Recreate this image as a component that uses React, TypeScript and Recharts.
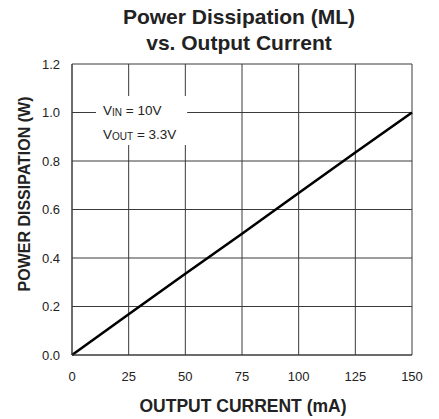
import React from "react";
import { LineChart, Line, XAxis, YAxis, CartesianGrid, ReferenceArea } from "recharts";

const currents = [0, 25, 50, 75, 100, 125, 150];
const power = [0, 0.168, 0.335, 0.5, 0.668, 0.835, 1.0];
const xTicks = [0, 25, 50, 75, 100, 125, 150];
const yTicks = [0, 0.2, 0.4, 0.6, 0.8, 1.0, 1.2];
const legendBoxX = [10.6, 50.8];
const legendBoxY = [0.866, 1.068];

const data = currents.map((c, i) => ({ current: c, power: power[i] }));

const FONT = "'Liberation Sans', Arial, Helvetica, sans-serif";
const TEXT = "#222";
const GRID = "#3a3a3a";

export default function App() {
  return (
    <div style={{ position: "absolute", left: 0, top: 0, width: 439, height: 419, background: "#fff", fontFamily: FONT }}>
      <LineChart width={439} height={419} data={data} margin={{ top: 64, right: 27, left: 0, bottom: 0 }}>
        <CartesianGrid stroke={GRID} strokeWidth={1} horizontalValues={yTicks} verticalValues={xTicks} />
        <XAxis
          dataKey="current"
          type="number"
          domain={[0, 150]}
          ticks={xTicks}
          height={64}
          tickLine={false}
          tickSize={0}
          tickMargin={17}
          axisLine={{ stroke: GRID }}
          tick={{ fill: TEXT, fontSize: 13, fontFamily: FONT }}
          interval={0}
        />
        <YAxis
          type="number"
          domain={[0, 1.2]}
          ticks={yTicks}
          width={72}
          tickLine={false}
          tickSize={0}
          tickMargin={12}
          axisLine={{ stroke: GRID }}
          tick={{ fill: TEXT, fontSize: 13, fontFamily: FONT }}
          tickFormatter={(v: number) => v.toFixed(1)}
          interval={0}
        />
        <ReferenceArea
          x1={legendBoxX[0]}
          x2={legendBoxX[1]}
          y1={legendBoxY[0]}
          y2={legendBoxY[1]}
          fill="#fff"
          fillOpacity={1}
          stroke="none"
          ifOverflow="visible"
        />
        <Line
          type="linear"
          dataKey="power"
          stroke="#000"
          strokeWidth={2.6}
          dot={false}
          activeDot={false}
          isAnimationActive={false}
        />
      </LineChart>

      <div
        style={{
          position: "absolute",
          left: 0,
          top: 4,
          width: 478,
          textAlign: "center",
          fontSize: 21,
          lineHeight: "26px",
          fontWeight: "bold",
          color: TEXT,
          whiteSpace: "nowrap",
        }}
      >
        Power Dissipation (ML)
        <br />
        vs. Output Current
      </div>

      <div
        style={{
          position: "absolute",
          left: 0,
          top: 395,
          width: 486,
          textAlign: "center",
          fontSize: 17.5,
          lineHeight: "22px",
          fontWeight: "bold",
          color: TEXT,
          whiteSpace: "nowrap",
        }}
      >
        OUTPUT CURRENT (mA)
      </div>

      <div
        style={{
          position: "absolute",
          left: 25,
          top: 194,
          transform: "translate(-50%, -50%) rotate(-90deg)",
          fontSize: 16,
          lineHeight: "20px",
          fontWeight: "bold",
          color: TEXT,
          whiteSpace: "nowrap",
        }}
      >
        POWER DISSIPATION (W)
      </div>

      <div
        style={{
          position: "absolute",
          left: 103,
          top: 99,
          fontSize: 13.5,
          lineHeight: "23px",
          color: TEXT,
          whiteSpace: "nowrap",
        }}
      >
        <div>
          V<span style={{ fontSize: 10, position: "relative", top: 1 }}>IN</span> = 10V
        </div>
        <div>
          V<span style={{ fontSize: 10, position: "relative", top: 1 }}>OUT</span> = 3.3V
        </div>
      </div>
    </div>
  );
}
